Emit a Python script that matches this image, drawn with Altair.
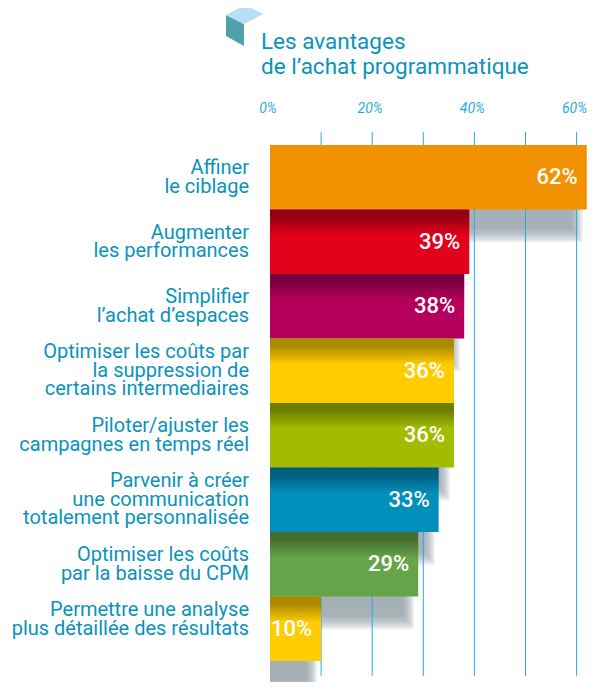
import altair as alt
import pandas as pd

labels = [
    "Affiner\nle ciblage",
    "Augmenter\nles performances",
    "Simplifier\nl’achat d’espaces",
    "Optimiser les coûts par\nla suppression de\ncertains intermediaires",
    "Piloter/ajuster les\ncampagnes en temps réel",
    "Parvenir à créer\nune communication\ntotalement personnalisée",
    "Optimiser les coûts\npar la baisse du CPM",
    "Permettre une analyse\nplus détaillée des résultats\n ",
]
values = [62, 39, 38, 36, 36, 33, 29, 10]
colors = ["#F39200", "#E2001A", "#B5005B", "#FFCC00", "#A2BD00", "#008EBB", "#66A449", "#FFCC00"]
tick_values = [10, 20, 30, 40, 50, 60]
axis_labels = [0, 20, 40, 60]

FONT = "Roboto"
TEXT = "#0A93BC"
BLUE = "#29ABE2"
PX_X = 5.11
PX_Y = 64.5
W = 317
H = 550
LINE = 18.5

df = pd.DataFrame({
    "label": labels,
    "value": values,
    "color": colors,
    "row": list(range(len(values))),
})
df["row_end"] = df["row"] + 1
df["zero"] = 0
df["value_text"] = df["value"].astype(str) + "%"
df["mid"] = df["row"] + 0.5
df["first_line"] = df["mid"] - (df["label"].str.count("\n")) * (LINE / 2) / PX_Y

ticks_df = pd.DataFrame({"t": tick_values, "y0": -0.2, "y1": 8.23})
axis_df = pd.DataFrame({"t": axis_labels, "text": [f"{v}%" for v in axis_labels]})

x_scale = alt.Scale(domain=[0, W / PX_X], nice=False, zero=False)
y_scale = alt.Scale(domain=[-13 / PX_Y, (H - 13) / PX_Y], reverse=True, nice=False, zero=False)
X = alt.X("zero:Q", scale=x_scale, axis=None)
Y = alt.Y("row:Q", scale=y_scale, axis=None)

layers = []
# soft drop shadows, built from nested translucent rectangles
N = 10
for k in range(N):
    f = k / (N - 1)
    inset = (4 + 11 * f) / PX_X
    drop = (33 - 14 * f) / PX_Y
    layers.append(
        alt.Chart(df).transform_calculate(
            sx=f"datum.value - {inset}", sy=f"datum.row_end + {drop}"
        ).mark_rect(color="#8C99A3", opacity=0.13).encode(
            x=X, x2="sx:Q", y=Y, y2="sy:Q"
        )
    )

rules = alt.Chart(ticks_df).mark_rule(color=BLUE, strokeWidth=1).encode(
    x=alt.X("t:Q", scale=x_scale, axis=None),
    y=alt.Y("y0:Q", scale=y_scale, axis=None),
    y2="y1:Q",
)
layers.append(rules)

layers.append(
    alt.Chart(axis_df).mark_text(align="center", baseline="middle", dx=-2, color=BLUE,
                                 font=FONT, fontSize=14, fontStyle="italic").encode(
        x=alt.X("t:Q", scale=x_scale, axis=None),
        y=alt.value(-23),
        text="text:N",
    )
)

bars = alt.Chart(df).mark_rect().encode(
    x=X, x2="value:Q", y=Y, y2="row_end:Q",
    color=alt.Color("color:N", scale=None),
)
layers.append(bars)

shade = alt.LinearGradient(
    gradient="linear", x1=0, y1=0, x2=0, y2=1,
    stops=[
        alt.GradientStop(color="rgba(0,0,0,0.33)", offset=0),
        alt.GradientStop(color="rgba(0,0,0,0.33)", offset=0.3),
        alt.GradientStop(color="rgba(0,0,0,0)", offset=1),
    ],
)
overlay = alt.Chart(df).transform_filter("datum.row > 0").transform_calculate(
    sy="datum.row + 0.4"
).mark_rect(color=shade).encode(x=X, x2="value:Q", y=Y, y2="sy:Q")
layers.append(overlay)

layers.append(
    alt.Chart(df).mark_text(align="right", baseline="middle", dx=-9, color="white",
                            font=FONT, fontSize=22, fontWeight=500).encode(
        x=alt.X("value:Q", scale=x_scale, axis=None),
        y=alt.Y("mid:Q", scale=y_scale, axis=None),
        text="value_text:N",
    )
)
layers.append(
    alt.Chart(df).mark_text(align="right", baseline="middle", dx=-21, color=TEXT,
                            font=FONT, fontSize=20, lineHeight=LINE, lineBreak="\n").encode(
        x=alt.X("zero:Q", scale=x_scale, axis=None),
        y=alt.Y("first_line:Q", scale=y_scale, axis=None),
        text="label:N",
    )
)

one = pd.DataFrame({"a": [0]})
layers.append(alt.Chart(one).mark_point(
    shape="M0,0 L18,9 L18,31 L0,21 Z", size=4, filled=True, fill="#519FAD", opacity=1, strokeWidth=0
).encode(x=alt.value(-44), y=alt.value(-117)))
layers.append(alt.Chart(one).mark_point(
    shape="M0,0 L19,-10 L37,-1 L18,9 Z", size=4, filled=True, fill="#B5DFF3", opacity=1, strokeWidth=0
).encode(x=alt.value(-44), y=alt.value(-117)))
title_df = pd.DataFrame({"t": ["Les avantages\nde l’achat programmatique"]})
layers.append(alt.Chart(title_df).mark_text(
    align="left", baseline="alphabetic", font=FONT, fontSize=22.5, color=TEXT,
    lineHeight=25, lineBreak="\n"
).encode(x=alt.value(-9), y=alt.value(-83), text="t:N"))

chart = alt.layer(*layers).properties(
    width=W,
    height=H,
    padding={"left": 262, "top": 124, "right": 0, "bottom": 0},
    autosize=alt.AutoSizeParams(type="none"),
).configure_view(stroke=None)

chart.save("out.html", embed_options={"renderer": "svg", "actions": False})
